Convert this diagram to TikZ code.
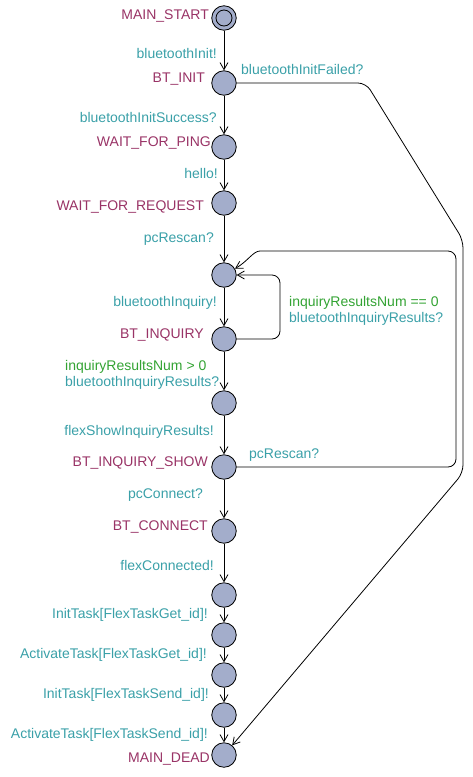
\documentclass[tikz,border=0pt]{standalone}
\usepackage{fontspec}
\setmainfont{Liberation Sans}
\usetikzlibrary{arrows.meta}
\definecolor{locfill}{RGB}{163,173,203}
\definecolor{namecol}{RGB}{153,51,102}
\definecolor{synccol}{RGB}{58,160,168}
\definecolor{guardcol}{RGB}{51,163,51}
\tikzstyle{location} = [circle, minimum size=24.5pt, inner sep=0pt, draw=black, line width=0.8pt, fill=locfill]
\tikzstyle{lbl} = [inner sep=0pt, text height=10.5pt, text depth=3pt, font=\fontsize{14pt}{16pt}\selectfont]
\tikzstyle{locname} = [lbl, anchor=east, text=namecol]
\tikzstyle{sync} = [lbl, anchor=east, text=synccol]
\tikzstyle{guard} = [lbl, anchor=east, text=guardcol]
\tikzstyle{arrow} = [line width=0.8pt, -{Straight Barb[length=7pt,width=8pt]}, rounded corners=8pt]

\begin{document}
\begin{tikzpicture}[x=1pt, y=-1pt]
\useasboundingbox (0,0) rectangle (473,777);

\node (start) [location] at (224,18) {};
\draw [line width=0.8pt] (start) circle (8pt);
\node (init) [location] at (224,83) {};
\node (ping) [location] at (224,147) {};
\node (request) [location] at (224,203) {};
\node (scan) [location] at (224,275) {};
\node (inquiry) [location] at (224,339) {};
\node (results) [location] at (224,403) {};
\node (show) [location] at (224,467) {};
\node (connect) [location] at (224,531) {};
\node (connected) [location] at (224,595) {};
\node (getinit) [location] at (224,635) {};
\node (getact) [location] at (224,675) {};
\node (sendinit) [location] at (224,715) {};
\node (dead) [location] at (224,755) {};

% location names
\node (nstart) [locname] at (209,16) {MAIN\_START};
\node (ninit) [locname] at (205,79) {BT\_INIT};
\node (nping) [locname] at (211,143) {WAIT\_FOR\_PING};
\node (nrequest) [locname] at (204,207) {WAIT\_FOR\_REQUEST};
\node (ninquiry) [locname] at (204,335) {BT\_INQUIRY};
\node (nshow) [locname] at (208,463) {BT\_INQUIRY\_SHOW};
\node (nconnect) [locname] at (208,527) {BT\_CONNECT};
\node (ndead) [locname] at (210,759) {MAIN\_DEAD};

% edge labels
\node (sinit) [sync] at (217,55) {bluetoothInit!};
\node (sfailed) [sync, anchor=west] at (241,71) {bluetoothInitFailed?};
\node (ssuccess) [sync] at (217,119) {bluetoothInitSuccess?};
\node (shello) [sync] at (218,175) {hello!};
\node (srescan) [sync] at (214,239) {pcRescan?};
\node (sinquiry) [sync] at (217,303) {bluetoothInquiry!};
\node (gnone) [guard, anchor=west] at (289,303) {inquiryResultsNum == 0};
\node (snone) [sync, anchor=west] at (289,319) {bluetoothInquiryResults?};
\node (gsome) [guard, anchor=west] at (65,367) {inquiryResultsNum > 0};
\node (ssome) [sync, anchor=west] at (65,383) {bluetoothInquiryResults?};
\node (sshow) [sync] at (214,432) {flexShowInquiryResults!};
\node (sagain) [sync, anchor=west] at (249,455) {pcRescan?};
\node (sconnect) [sync] at (203,495) {pcConnect?};
\node (sconnected) [sync] at (214,567) {flexConnected!};
\node (sgetinit) [sync] at (208,615) {InitTask[FlexTaskGet\_id]!};
\node (sgetact) [sync] at (207,655) {ActivateTask[FlexTaskGet\_id]!};
\node (ssendinit) [sync] at (209,695) {InitTask[FlexTaskSend\_id]!};
\node (ssendact) [sync] at (208,735) {ActivateTask[FlexTaskSend\_id]!};

% transitions
\draw [arrow] (start) -- (init);
\draw [arrow] (init) -- (ping);
\draw [arrow] (ping) -- (request);
\draw [arrow] (request) -- (scan);
\draw [arrow] (scan) -- (inquiry);
\draw [arrow] (inquiry) -- (results);
\draw [arrow] (results) -- (show);
\draw [arrow] (show) -- (connect);
\draw [arrow] (connect) -- (connected);
\draw [arrow] (connected) -- (getinit);
\draw [arrow] (getinit) -- (getact);
\draw [arrow] (getact) -- (sendinit);
\draw [arrow] (sendinit) -- (dead);
\draw [arrow] (inquiry.east) -- (280,339) -- (280,275) -- (scan.east);
\draw [arrow] (show.east) -- (456,467) -- (456,251) -- (268,251) to[out=180, in=30, rounded corners=0pt] (scan);
\draw [arrow] (init.east) -- (366,83) -- (463,240) -- (463,473) -- (dead);

\end{tikzpicture}
\end{document}
